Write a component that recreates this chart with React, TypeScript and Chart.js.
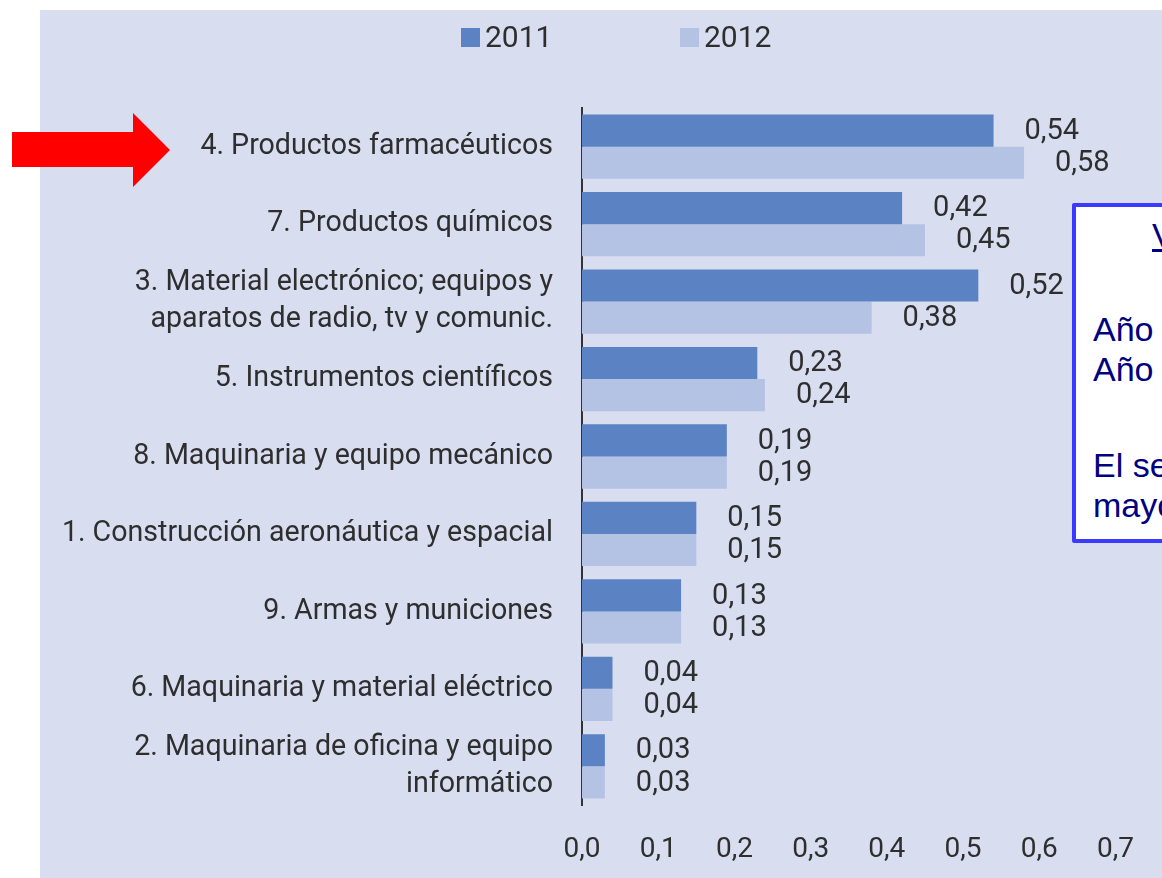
import React, { useEffect, useRef } from "react";
import { Chart, registerables } from "chart.js";

Chart.register(...registerables);

const categories: (string | string[])[] = [
  "4. Productos farmacéuticos",
  "7. Productos químicos",
  ["3. Material electrónico; equipos y", "aparatos de radio, tv y comunic."],
  "5. Instrumentos científicos",
  "8. Maquinaria y equipo mecánico",
  "1. Construcción aeronáutica y espacial",
  "9. Armas y municiones",
  "6. Maquinaria y material eléctrico",
  ["2. Maquinaria de oficina y equipo", "informático"],
];
const values2011 = [0.54, 0.42, 0.52, 0.23, 0.19, 0.15, 0.13, 0.04, 0.03];
const values2012 = [0.58, 0.45, 0.38, 0.24, 0.19, 0.15, 0.13, 0.04, 0.03];
const seriesLabels = ["2011", "2012"];
const xTickMin = 0;
const xTickMax = 0.7;
const xTickStep = 0.1;

const COLOR_2011 = "#5B82C3";
const COLOR_2012 = "#B4C2E4";
const PANEL_BG = "#D8DEF0";
const TEXT = "#2e2e2e";
const FONT = "Roboto, 'Open Sans', sans-serif";

const fmt = (v: number, d: number) => v.toFixed(d).replace(".", ",");

const valueLabelPlugin = {
  id: "valueLabels",
  afterDatasetsDraw(chart: any) {
    const ctx = chart.ctx;
    ctx.save();
    ctx.font = `29px ${FONT}`;
    ctx.fillStyle = TEXT;
    ctx.textAlign = "left";
    ctx.textBaseline = "middle";
    chart.data.datasets.forEach((ds: any, di: number) => {
      const meta = chart.getDatasetMeta(di);
      meta.data.forEach((bar: any, i: number) => {
        ctx.fillText(fmt(ds.data[i], 2), bar.x + 31, bar.y + 1);
      });
    });
    ctx.restore();
  },
};

const customLegendPlugin = {
  id: "customLegend",
  afterDraw(chart: any) {
    const ctx = chart.ctx;
    const positions = [461, 680];
    ctx.save();
    ctx.font = `30px ${FONT}`;
    ctx.textBaseline = "middle";
    chart.data.datasets.forEach((ds: any, di: number) => {
      const x = positions[di];
      ctx.fillStyle = ds.backgroundColor;
      ctx.fillRect(x, 28, 19, 19);
      ctx.fillStyle = TEXT;
      ctx.fillText(ds.label, x + 24, 39);
    });
    ctx.restore();
  },
};

function BarChart() {
  const ref = useRef<HTMLCanvasElement | null>(null);
  useEffect(() => {
    if (!ref.current) return;
    const chart = new Chart(ref.current, {
      type: "bar",
      data: {
        labels: categories,
        datasets: [
          {
            label: seriesLabels[0],
            data: values2011,
            backgroundColor: COLOR_2011,
            categoryPercentage: 0.83,
            barPercentage: 1,
          },
          {
            label: seriesLabels[1],
            data: values2012,
            backgroundColor: COLOR_2012,
            categoryPercentage: 0.83,
            barPercentage: 1,
          },
        ],
      },
      options: {
        indexAxis: "y",
        animation: false,
        responsive: false,
        maintainAspectRatio: false,
        layout: { padding: { top: 108, right: 42, bottom: 3, left: 0 } },
        plugins: {
          legend: { display: false },
          tooltip: { enabled: false },
        },
        scales: {
          x: {
            min: xTickMin,
            max: xTickMax,
            grid: { display: false, drawTicks: false },
            border: { display: false },
            afterFit: (s: any) => {
              s.height = 70;
            },
            ticks: {
              stepSize: xTickStep,
              padding: 28,
              color: TEXT,
              font: { family: FONT, size: 28 },
              callback: (v: any) => fmt(Number(v), 1),
            },
          },
          y: {
            grid: { display: false, drawTicks: false },
            border: { display: true, color: "#333333", width: 2 },
            afterFit: (s: any) => {
              s.width = 582;
            },
            ticks: {
              padding: 29,
              color: TEXT,
              font: { family: FONT, size: 28.6, lineHeight: 1.3 },
              autoSkip: false,
            },
          },
        },
      },
      plugins: [valueLabelPlugin, customLegendPlugin],
    });
    return () => chart.destroy();
  }, []);
  return (
    <canvas
      ref={ref}
      width={1162}
      height={878}
      style={{ position: "absolute", left: 0, top: 0, width: 1162, height: 878 }}
    />
  );
}

export default function App() {
  return (
    <div
      style={{
        position: "absolute",
        left: 0,
        top: 0,
        width: 1162,
        height: 878,
        overflow: "hidden",
        background: "#ffffff",
      }}
    >
      <div
        style={{
          position: "absolute",
          left: 40,
          top: 10,
          width: 1122,
          height: 868,
          background: PANEL_BG,
        }}
      />
      <BarChart />
      <svg
        width={180}
        height={100}
        style={{ position: "absolute", left: 0, top: 100 }}
      >
        <polygon
          points="12,32 133,32 133,13 170,50 133,87 133,67 12,67"
          fill="#FF0000"
        />
      </svg>
      <div
        style={{
          position: "absolute",
          left: 1072,
          top: 203,
          width: 300,
          height: 332,
          background: "#ffffff",
          border: "4px solid #3B3BFF",
          borderRadius: 2,
          fontFamily: "'Liberation Sans', Arial, sans-serif",
          color: "#000080",
          fontSize: 34,
          lineHeight: "40px",
          whiteSpace: "nowrap",
        }}
      >
        <div style={{ position: "absolute", left: 76, top: 8, textDecoration: "underline" }}>
          Valores
        </div>
        <div style={{ position: "absolute", left: 17, top: 102 }}>Año 2011</div>
        <div style={{ position: "absolute", left: 17, top: 142 }}>Año 2012</div>
        <div style={{ position: "absolute", left: 17, top: 238 }}>El sector</div>
        <div style={{ position: "absolute", left: 17, top: 278 }}>mayor</div>
      </div>
    </div>
  );
}
